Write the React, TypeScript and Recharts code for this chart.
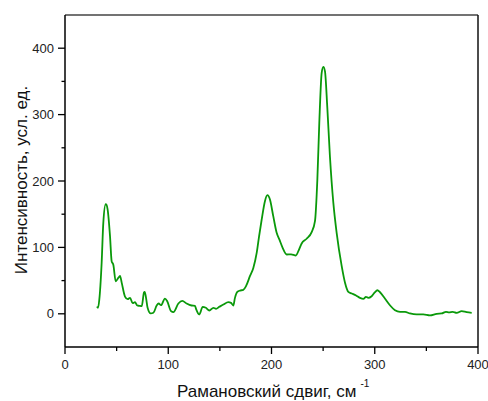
import React from 'react';
import { LineChart, Line, XAxis, YAxis, ReferenceLine } from 'recharts';

const ramanShift: number[] = [31, 32, 33.2, 35.5, 37.1, 39.4, 40.3, 41.3, 43.6, 45.2, 46.8, 49.1, 51.6, 53.3, 54.9, 58.1, 60.7, 63, 65.5, 67.8, 70, 72, 74.3, 76.5, 77.2, 78.5, 80, 83, 85.6, 88.8, 90.7, 93, 96.8, 99, 102.7, 105, 109.8, 113.6, 117.8, 122.6, 125.9, 127, 130, 133.4, 136.4, 139.8, 143.7, 146.3, 149.5, 153.4, 158.2, 160.8, 163, 164.6, 166.9, 169.5, 172.7, 175.3, 179.2, 182.4, 185.7, 188, 190.5, 193.7, 196, 198.5, 201.7, 205, 207.6, 210.8, 214.7, 219, 223.7, 226, 229.2, 234, 238.9, 242.1, 244.4, 246.3, 248.6, 250.2, 251.8, 254, 256.6, 259.9, 263.1, 268, 271.2, 274.4, 277.7, 281.9, 285.7, 289, 291.5, 293.7, 297, 300.2, 302.5, 305.1, 310, 314.9, 319.6, 324.5, 329.3, 334.1, 340.6, 347, 353.5, 360, 364.8, 369, 372, 375.5, 379.4, 384.2, 389, 393.9];

const intensity: number[] = [11, 9, 21, 77, 137, 165, 164, 157, 117, 79, 74, 49, 54, 57, 47, 26, 22, 24, 16, 17.5, 12.5, 12, 11.5, 32, 33, 24, 9, 0.5, 1.5, 12.5, 15.5, 13, 23, 19, 4, 2.5, 15.5, 19.5, 15.5, 12.5, 12, 7, -1, 10.5, 9, 5, 9, 7.5, 10.5, 14, 17.5, 16.5, 12.5, 24, 33, 35, 36, 41.6, 57, 69, 92, 117, 142, 170, 178.6, 172, 147, 122, 112, 99.4, 89.3, 89.5, 87.8, 94.3, 105.9, 113, 123, 139.5, 202, 288, 363, 372, 365, 312, 237, 167, 122, 71.7, 46.7, 33, 30.6, 27.6, 24, 22.6, 25.6, 24, 26.5, 32.5, 35.5, 32.5, 22.6, 12.5, 5.4, 3, 3, 0.5, -1, -1, -2.5, 0, 0.5, 3, 2, 3, 1.5, 4, 2.4, 1.5];

const xTicks: number[] = [0, 50, 100, 150, 200, 250, 300, 350, 400];
const yTicks: number[] = [0, 50, 100, 150, 200, 250, 300, 350, 400];

const xLabel = 'Рамановский сдвиг, см';
const xLabelSup = '-1';
const yLabel = 'Интенсивность, усл. ед.';

const data = ramanShift.map((x, i) => ({ x, y: intensity[i] }));

const FONT = "Arial, 'Liberation Sans', sans-serif";

const XTick = (props: any) => {
  const { x, y, payload } = props;
  const v = payload.value;
  const major = v % 100 === 0;
  return (
    <g>
      <line x1={x} x2={x} y1={y} y2={y + (major ? 7 : 4)} stroke="#000" strokeWidth={1.3} />
      {major && (
        <text x={x} y={y + 22} textAnchor="middle" fontSize={13} fill="#222" fontFamily={FONT}>
          {v}
        </text>
      )}
    </g>
  );
};

const YTick = (props: any) => {
  const { x, y, payload } = props;
  const v = payload.value;
  const major = v % 100 === 0;
  return (
    <g>
      <line x1={x} x2={x - (major ? 7 : 3.5)} y1={y} y2={y} stroke="#000" strokeWidth={1.3} />
      {major && (
        <text x={x - 11} y={y + 4.6} textAnchor="end" fontSize={13} fill="#222" fontFamily={FONT}>
          {v}
        </text>
      )}
    </g>
  );
};

export default function App() {
  return (
    <div style={{ position: 'absolute', left: 0, top: 0, width: 488, height: 401, background: '#fff' }}>
      <LineChart width={488} height={401} data={data} margin={{ top: 15, right: 10, bottom: 24, left: 15 }}>
        <XAxis
          xAxisId="main"
          type="number"
          dataKey="x"
          domain={[0, 400]}
          ticks={xTicks}
          height={30}
          tickSize={0}
          tickMargin={0}
          tickLine={false}
          interval={0}
          tick={<XTick />}
          axisLine={{ stroke: '#000', strokeWidth: 1.5 }}
        />
        <YAxis
          yAxisId="main"
          type="number"
          domain={[-50, 450]}
          ticks={yTicks}
          width={50}
          tickSize={0}
          tickMargin={0}
          tickLine={false}
          interval={0}
          tick={<YTick />}
          axisLine={{ stroke: '#000', strokeWidth: 1.5 }}
        />
        <ReferenceLine xAxisId="main" yAxisId="main" y={450} stroke="#444" strokeWidth={1.5} />
        <ReferenceLine xAxisId="main" yAxisId="main" x={400} stroke="#111" strokeWidth={1.5} />
        <Line
          xAxisId="main"
          yAxisId="main"
          type="monotone"
          dataKey="y"
          stroke="#0a990a"
          strokeWidth={1.8}
          dot={false}
          isAnimationActive={false}
        />
      </LineChart>
      <svg width={488} height={401} style={{ position: 'absolute', left: 0, top: 0, pointerEvents: 'none' }}>
        <text x={177} y={397} fontSize={17} fill="#111" fontFamily={FONT}>
          {xLabel}
          <tspan dx={4} dy={-10} fontSize={10}>{xLabelSup}</tspan>
        </text>
        <text
          x={27}
          y={180}
          textAnchor="middle"
          fontSize={17}
          fill="#111"
          fontFamily={FONT}
          transform="rotate(-90, 27, 180)"
        >
          {yLabel}
        </text>
      </svg>
    </div>
  );
}
